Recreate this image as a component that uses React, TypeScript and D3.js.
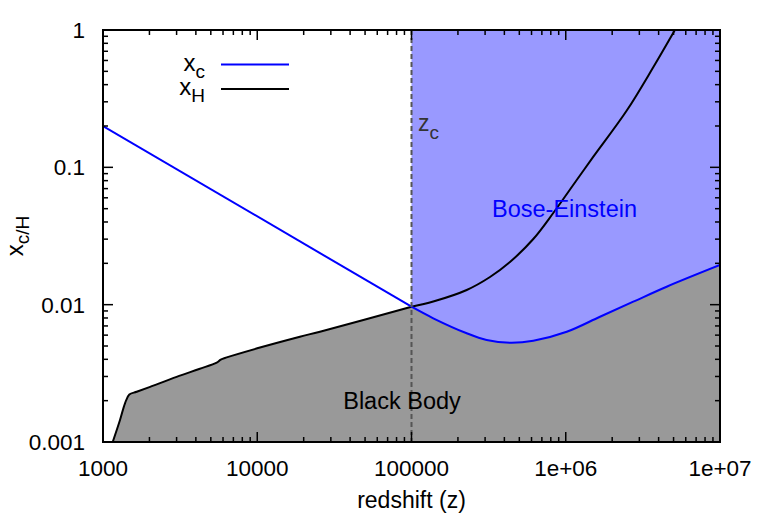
import React from "react";
import * as d3 from "d3";

const xTickValues = [1e3, 1e4, 1e5, 1e6, 1e7];
const xTickLabels = ["1000", "10000", "100000", "1e+06", "1e+07"];
const yTickValues = [1, 0.1, 0.01, 0.001];
const yTickLabels = ["1", "0.1", "0.01", "0.001"];

// x_H curve
const zH = [1156, 1289, 1389, 1481, 1654, 2020, 3000, 4200, 5460, 5800, 6340, 10000, 18900, 25500, 100000, 138400, 228000, 322800, 435000, 616000, 830000, 1178000, 1510000, 2480000, 3700000, 5100000];
const vH = [0.001, 0.001446, 0.001914, 0.00222, 0.00232, 0.00252, 0.00298, 0.00340, 0.00378, 0.00398, 0.00413, 0.00481, 0.00584, 0.00636, 0.00966, 0.01054, 0.01279, 0.0159, 0.02045, 0.03006, 0.0465, 0.0809, 0.1196, 0.258, 0.5376, 1.0];

// x_c curve
const zC = [1000, 100000, 138400, 228000, 307000, 435000, 616000, 1015000, 1667000, 2740000, 4510000, 10000000];
const vC = [0.2, 0.00966, 0.00796, 0.00619, 0.00553, 0.00528, 0.00546, 0.00635, 0.00817, 0.01051, 0.01351, 0.01944];

const zCrit = 100000;

const W = 763, H = 521;
const left = 103, right = 720, top = 30, bottom = 442;
const FONT = "'Liberation Sans', Arial, Helvetica, sans-serif";

export default function App() {
  const x = d3.scaleLog().domain([1e3, 1e7]).range([left, right]);
  const y = d3.scaleLog().domain([0.001, 1]).range([bottom, top]);

  const hPts: [number, number][] = zH.map((z, i) => [z, vH[i]]);
  const cPts: [number, number][] = zC.map((z, i) => [z, vC[i]]);

  const smooth = d3.line<[number, number]>().x(d => x(d[0])).y(d => y(d[1])).curve(d3.curveCatmullRom.alpha(0.5));
  const straight = d3.line<[number, number]>().x(d => x(d[0])).y(d => y(d[1])).curve(d3.curveLinear);

  const hLeft = hPts.filter(p => p[0] <= zCrit);
  const hRight = hPts.filter(p => p[0] >= zCrit);
  const cLeft = cPts.filter(p => p[0] <= zCrit);
  const cRight = cPts.filter(p => p[0] >= zCrit);

  const hLeftPath = smooth(hLeft) || "";
  const hRightPath = smooth(hRight) || "";
  const cLeftPath = straight(cLeft) || "";
  const cRightPath = smooth(cRight) || "";

  const grayPath = hLeftPath + cRightPath.replace(/^M/, "L") + `L${right},${bottom}L${x(zH[0])},${bottom}Z`;
  const bluePath = cRightPath + `L${right},${top}L${x(zCrit)},${top}Z`;

  const minorX: number[] = [];
  for (let e = 3; e < 7; e++) for (let m = 2; m <= 9; m++) minorX.push(m * Math.pow(10, e));
  const minorY: number[] = [];
  for (let e = -3; e < 0; e++) for (let m = 2; m <= 9; m++) minorY.push(m * Math.pow(10, e));

  const majorLen = 10, minorLen = 5;

  return (
    <svg width={W} height={H} style={{ position: "absolute", left: 0, top: 0 }} fontFamily={FONT}>
      <rect x={0} y={0} width={W} height={H} fill="#fff" />
      <defs>
        <clipPath id="plotclip">
          <rect x={left} y={top} width={right - left} height={bottom - top} />
        </clipPath>
      </defs>
      <g clipPath="url(#plotclip)">
        <path d={bluePath} fill="#9999ff" />
        <path d={grayPath} fill="#999999" />
        <path d={hLeftPath} fill="none" stroke="#000" strokeWidth={2} />
        <path d={hRightPath} fill="none" stroke="#000" strokeWidth={2} />
        <path d={cLeftPath} fill="none" stroke="#0000ff" strokeWidth={2} />
        <path d={cRightPath} fill="none" stroke="#0000ff" strokeWidth={2} />
        <line x1={x(zCrit)} x2={x(zCrit)} y1={top} y2={bottom} stroke="#555" strokeWidth={2} strokeDasharray="5,3" />
      </g>
      {/* ticks */}
      <g stroke="#000" strokeWidth={1.5}>
        {xTickValues.map(v => (
          <g key={"xt" + v}>
            <line x1={x(v)} x2={x(v)} y1={bottom} y2={bottom - majorLen} />
            <line x1={x(v)} x2={x(v)} y1={top} y2={top + majorLen} />
          </g>
        ))}
        {minorX.map(v => (
          <g key={"xm" + v}>
            <line x1={x(v)} x2={x(v)} y1={bottom} y2={bottom - minorLen} />
            <line x1={x(v)} x2={x(v)} y1={top} y2={top + minorLen} />
          </g>
        ))}
        {yTickValues.map(v => (
          <g key={"yt" + v}>
            <line x1={left} x2={left + majorLen} y1={y(v)} y2={y(v)} />
            <line x1={right} x2={right - majorLen} y1={y(v)} y2={y(v)} />
          </g>
        ))}
        {minorY.map(v => (
          <g key={"ym" + v}>
            <line x1={left} x2={left + minorLen} y1={y(v)} y2={y(v)} />
            <line x1={right} x2={right - minorLen} y1={y(v)} y2={y(v)} />
          </g>
        ))}
      </g>
      <rect x={left} y={top} width={right - left} height={bottom - top} fill="none" stroke="#000" strokeWidth={2} />
      {/* tick labels */}
      <g fontSize={22.5} fill="#000">
        {xTickValues.map((v, i) => (
          <text key={"xl" + v} x={x(v)} y={476} textAnchor="middle">{xTickLabels[i]}</text>
        ))}
        {yTickValues.map((v, i) => (
          <text key={"yl" + v} x={85} y={y(v) + 8} textAnchor="end">{yTickLabels[i]}</text>
        ))}
      </g>
      {/* axis labels */}
      <text x={(left + right) / 2} y={508} textAnchor="middle" fontSize={23}>redshift (z)</text>
      <text transform="translate(23,236) rotate(-90)" textAnchor="middle" fontSize={24}>
        <tspan>x</tspan>
        <tspan fontSize={19} dy={6}>c/H</tspan>
      </text>
      {/* legend */}
      <text x={205} y={71} textAnchor="end" fontSize={24}>
        <tspan>x</tspan>
        <tspan fontSize={19} dy={7}>c</tspan>
      </text>
      <line x1={221} x2={289} y1={64.5} y2={64.5} stroke="#0000ff" strokeWidth={2} />
      <text x={205} y={95} textAnchor="end" fontSize={24}>
        <tspan>x</tspan>
        <tspan fontSize={19} dy={7}>H</tspan>
      </text>
      <line x1={221} x2={289} y1={89} y2={89} stroke="#000" strokeWidth={2} />
      {/* annotations */}
      <text x={418} y={131} fontSize={23} fill="#333">
        <tspan>z</tspan>
        <tspan fontSize={19} dy={8}>c</tspan>
      </text>
      <text x={564.5} y={217} textAnchor="middle" fontSize={23.5} fill="#0000ff">Bose-Einstein</text>
      <text x={402} y={409} textAnchor="middle" fontSize={23.5} fill="#000">Black Body</text>
    </svg>
  );
}
